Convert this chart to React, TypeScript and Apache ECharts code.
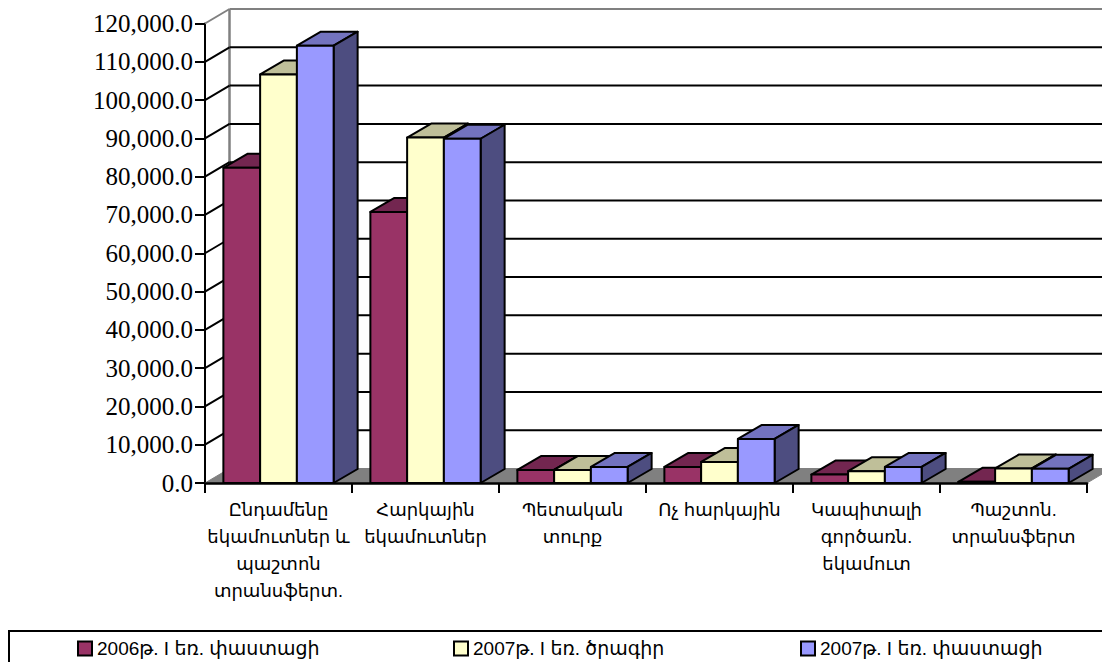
import React, { useEffect, useRef } from "react";
import * as echarts from "echarts";

const categories = [
  "Ընդամենը\nեկամուտներ և\nպաշտոն\nտրանսֆերտ.",
  "Հարկային\nեկամուտներ",
  "Պետական\nտուրք",
  "Ոչ հարկային",
  "Կապիտալի\nգործառն.\nեկամուտ",
  "Պաշտոն.\nտրանսֆերտ",
];
const seriesNames = ["2006թ. I եռ. փաստացի", "2007թ. I եռ. ծրագիր", "2007թ. I եռ. փաստացի"];
const actual2006 = [82300, 70800, 3400, 4200, 2200, 300];
const plan2007 = [106700, 90200, 3400, 5500, 3100, 3800];
const actual2007 = [114200, 89900, 4200, 11500, 4200, 3700];
const gridValues = [10000, 20000, 30000, 40000, 50000, 60000, 70000, 80000, 90000, 100000, 110000, 120000];

const fronts = ["#993366", "#FFFFCC", "#9999FF"];
const tops = ["#732650", "#BFBF99", "#7373BF"];
const sides = ["#4D1A33", "#808066", "#4D4D80"];
const legendLefts = [77, 453, 800];
const DX = 24;
const DY = 14;
const WALL_DX = 24.5;
const WALL_DY = 14.5;
const serif = "'Liberation Serif', 'Times New Roman', serif";
const sans = "'Liberation Sans', 'DejaVu Sans', sans-serif";

const barSeries = (idx: number, values: number[]) => ({
  type: "custom",
  name: seriesNames[idx],
  clip: false,
  silent: true,
  z: 5,
  encode: { x: 0, y: 1 },
  data: values.map((v, i) => [i, v]),
  itemStyle: { color: fronts[idx] },
  renderItem: (_p: any, api: any) => {
    const c = api.value(0);
    const base = api.coord([c, 0]);
    const top = api.coord([c, api.value(1)]);
    const band = api.size([1, 0])[0];
    const w = band * 0.25;
    const x0 = base[0] - 1.5 * w + idx * w;
    const x1 = x0 + w;
    const y0 = base[1];
    const y1 = top[1];
    const line = { stroke: "#000", lineWidth: 2, lineJoin: "round" };
    return {
      type: "group",
      children: [
        { type: "polygon", shape: { points: [[x0, y1], [x0 + DX, y1 - DY], [x1 + DX, y1 - DY], [x1, y1]] }, style: { fill: tops[idx], ...line } },
        { type: "polygon", shape: { points: [[x1, y0], [x1 + DX, y0 - DY], [x1 + DX, y1 - DY], [x1, y1]] }, style: { fill: sides[idx], ...line } },
        { type: "rect", shape: { x: x0, y: y1, width: w, height: y0 - y1 }, style: { fill: fronts[idx], ...line } },
      ],
    };
  },
});

const wallSeries = {
  type: "custom",
  name: "wall",
  clip: false,
  silent: true,
  z: 1,
  data: gridValues.map((v) => [0, v]),
  encode: { x: 0, y: 1 },
  renderItem: (p: any, api: any) => {
    const v = api.value(1);
    const r = p.coordSys;
    const y = api.coord([0, v])[1];
    const isTop = v === gridValues[gridValues.length - 1];
    const color = isTop ? "#808080" : "#000";
    const children: any[] = [];
    if (p.dataIndex === 0) {
      const by = r.y + r.height;
      children.push(
        { type: "polygon", shape: { points: [[r.x, by], [r.x + WALL_DX, by - WALL_DY], [r.x + r.width + WALL_DX, by - WALL_DY], [r.x + r.width, by]] }, style: { fill: "#808080", stroke: "#808080", lineWidth: 1 } },
        { type: "line", shape: { x1: r.x + WALL_DX, y1: r.y - WALL_DY, x2: r.x + WALL_DX, y2: by - WALL_DY }, style: { stroke: "#808080", lineWidth: 2.5 } }
      );
    }
    children.push(
      { type: "line", shape: { x1: r.x, y1: y, x2: r.x + WALL_DX, y2: y - WALL_DY }, style: { stroke: color, lineWidth: 2 } },
      { type: "line", shape: { x1: r.x + WALL_DX, y1: y - WALL_DY, x2: r.x + r.width + WALL_DX, y2: y - WALL_DY }, style: { stroke: color, lineWidth: 2 } }
    );
    return { type: "group", children };
  },
};

const yLabel = (v: number) =>
  v.toLocaleString("en-US", { minimumFractionDigits: 1, maximumFractionDigits: 1 });

export default function App() {
  const ref = useRef<HTMLDivElement>(null);
  useEffect(() => {
    document.body.style.margin = "0";
    const chart = echarts.init(ref.current!, undefined, { renderer: "svg" });
    chart.setOption({
      animation: false,
      backgroundColor: "#fff",
      grid: { left: 205, top: 23.5, width: 882, height: 459.5, containLabel: false },
      graphic: [
        { type: "rect", z: 0, shape: { x: 9, y: 631, width: 1200, height: 100 }, style: { fill: "#fff", stroke: "#000", lineWidth: 2 } },
      ],
      legend: seriesNames.map((name, i) => ({
        left: legendLefts[i],
        top: 639,
        padding: 0,
        itemWidth: 14,
        itemHeight: 14,
        itemGap: 0,
        icon: "rect",
        selectedMode: false,
        data: [name],
        itemStyle: { borderColor: "#000", borderWidth: 2 },
        textStyle: { fontFamily: sans, fontSize: 19, color: "#000" },
      })),
      xAxis: {
        type: "category",
        data: categories,
        z: 6,
        axisLine: { lineStyle: { color: "#000", width: 2.5 } },
        axisTick: { show: true, alignWithLabel: false, interval: 0, length: 10, lineStyle: { color: "#000", width: 2 } },
        axisLabel: {
          interval: 0,
          margin: 13,
          fontFamily: sans,
          fontSize: 18,
          lineHeight: 27,
          color: "#000",
        },
      },
      yAxis: {
        type: "value",
        min: 0,
        max: 120000,
        interval: 10000,
        splitLine: { show: false },
        axisLine: { show: true, lineStyle: { color: "#000", width: 2 } },
        axisTick: { show: true, length: 10, lineStyle: { color: "#000", width: 2 } },
        axisLabel: { margin: 12, fontFamily: serif, fontSize: 25, color: "#000", formatter: yLabel },
      },
      series: [wallSeries, barSeries(0, actual2006), barSeries(1, plan2007), barSeries(2, actual2007)],
    });
    return () => chart.dispose();
  }, []);
  return <div ref={ref} style={{ width: 1102, height: 662 }} />;
}
